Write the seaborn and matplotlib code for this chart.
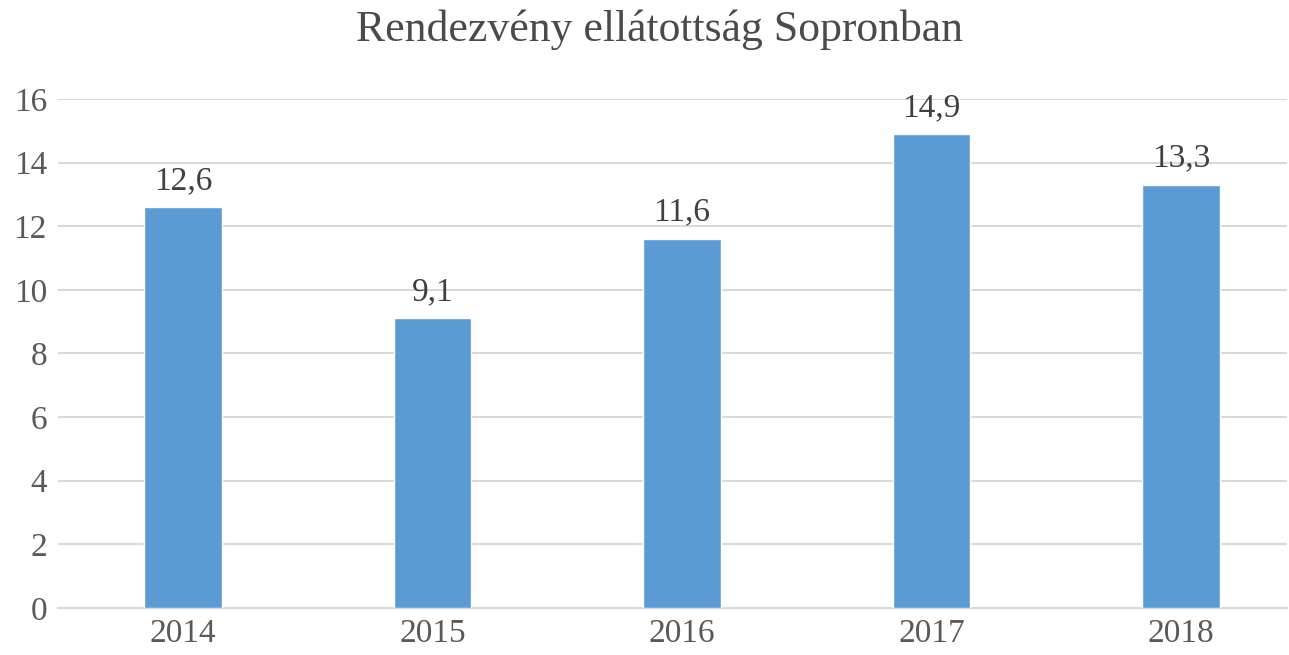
import matplotlib
matplotlib.use("Agg")
import matplotlib.pyplot as plt
import seaborn as sns
import pandas as pd

# adatok
years = ["2014", "2015", "2016", "2017", "2018"]
values = [12.6, 9.1, 11.6, 14.9, 13.3]
title = "Rendezvény ellátottság Sopronban"

df = pd.DataFrame({"ev": years, "ertek": values})

sns.set_style("white")
plt.rcParams["font.family"] = ["Liberation Serif", "DejaVu Serif"]

fig = plt.figure(figsize=(12.89, 6.55), dpi=100)
ax = fig.add_axes([58 / 1289, 0.072, 1229 / 1289, 0.777])

sns.barplot(data=df, x="ev", y="ertek", color="#5B9BD5", saturation=1,
            width=0.31, ax=ax, zorder=3)

ax.set_ylim(0, 16)
ax.set_xlim(-0.501, 4.425)
ax.set_yticks(range(0, 17, 2))
ax.yaxis.grid(True, color="#D9D9D9", linewidth=1.5, zorder=0)
ax.set_axisbelow(True)
for s in ["top", "right", "left"]:
    ax.spines[s].set_visible(False)
ax.spines["bottom"].set_color("#D9D9D9")
ax.spines["bottom"].set_linewidth(1.5)
ax.tick_params(axis="both", length=0, labelsize=24, labelcolor="#595959", pad=8)
ax.set_xlabel("")
ax.set_ylabel("")

labels = [f"{v:.1f}".replace(".", ",") for v in values]
ax.bar_label(ax.containers[0], labels=labels, padding=8, fontsize=24, color="#404040")

fig.text(660 / 1289, 1 - 30 / 655, title, fontsize=31.5, color="#4a4a4a",
         ha="center", va="center")

fig.savefig("out.png", dpi=100)
